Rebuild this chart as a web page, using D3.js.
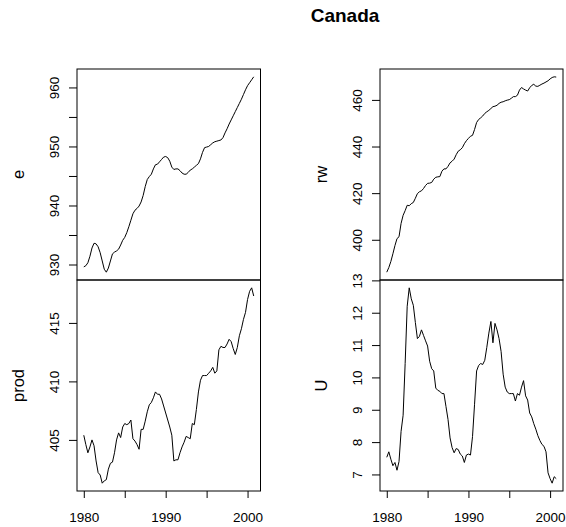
<!DOCTYPE html>
<html>
<head>
<meta charset="utf-8">
<script src="https://cdn.jsdelivr.net/npm/d3@7"></script>
<style>
  body { margin: 0; background: #fff; }
  text { font-family: "Liberation Sans", Arial, sans-serif; fill: #000; }
</style>
</head>
<body>
<svg width="566" height="527"></svg>
<script>
// quarterly series, 1980 Q1 .. 2000 Q4
const startYear = 1980;
const frequency = 4;

const e = [
  929.6, 929.8, 930.3, 931.4, 932.8, 933.6, 933.5, 933.0, 932.0, 930.6,
  929.2, 928.7, 929.4, 930.6, 931.8, 932.1, 932.3, 932.6, 933.3, 934.1,
  934.6, 935.4, 936.4, 937.5, 938.6, 939.2, 939.5, 939.9, 940.6, 941.7,
  943.2, 944.4, 944.9, 945.3, 946.2, 946.9, 947.0, 947.4, 947.8, 948.2,
  948.3, 948.1, 947.5, 946.5, 946.1, 946.2, 946.2, 945.9, 945.5, 945.3,
  945.3, 945.6, 946.0, 946.2, 946.5, 946.8, 947.1, 947.9, 949.0, 949.8,
  949.9, 950.0, 950.3, 950.6, 950.8, 950.9, 951.0, 951.1, 951.5, 952.3,
  953.0, 953.8, 954.5, 955.2, 955.9, 956.6, 957.3, 958.0, 958.8, 959.6,
  960.3, 960.8, 961.3, 961.8
];

const prod = [
  405.4, 404.6, 403.9, 404.4, 405.0, 404.5, 403.2, 402.2, 402.0, 401.3,
  401.5, 401.6, 402.5, 403.0, 403.1, 403.9, 405.0, 405.6, 405.2, 406.1,
  406.4, 406.3, 406.4, 406.7, 405.1, 404.9, 404.6, 404.2, 405.9, 405.9,
  406.6, 407.4, 408.0, 408.2, 408.6, 409.1, 408.9, 408.9, 408.5, 407.9,
  407.3, 406.7, 406.1, 405.4, 403.2, 403.3, 403.3, 403.9, 404.4, 404.8,
  405.3, 405.2, 405.1, 406.4, 406.3, 407.6, 409.1, 410.1, 410.5, 410.5,
  410.5, 410.7, 410.9, 411.2, 410.7, 410.9, 412.7, 413.0, 412.9, 412.9,
  413.2, 413.6, 413.4, 412.8, 412.3, 412.9, 413.9, 414.5, 415.3, 415.9,
  417.0, 417.7, 418.0, 417.3
];

const rw = [
  386.1, 388.1, 390.7, 394.0, 397.5, 400.5, 401.3, 407.0, 410.5, 412.5,
  414.8, 414.6, 415.5, 416.0, 417.8, 419.8, 420.6, 421.0, 422.0, 423.3,
  424.2, 424.3, 424.6, 426.0, 426.8, 427.0, 427.1, 429.4, 430.4, 430.4,
  431.5, 433.0, 433.7, 434.6, 436.5, 438.0, 438.6, 439.5, 441.2, 442.5,
  443.5, 444.4, 444.8, 447.3, 450.3, 451.6, 452.3, 453.1, 454.2, 454.9,
  455.5, 456.3, 457.1, 457.3, 457.7, 458.5, 459.0, 459.2, 459.6, 459.9,
  460.1, 460.7, 461.4, 461.4, 462.0, 464.2, 465.3, 464.7, 464.2, 463.8,
  465.2, 466.2, 466.7, 465.9, 465.8, 466.3, 466.8, 467.2, 467.7, 468.2,
  469.0, 469.6, 469.9, 469.8
];

const U = [
  7.53, 7.70, 7.47, 7.27, 7.37, 7.13, 7.40, 8.33, 8.83, 10.43,
  12.20, 12.77, 12.43, 12.23, 11.70, 11.20, 11.27, 11.47, 11.30, 11.13,
  10.97, 10.50, 10.27, 10.20, 9.67, 9.60, 9.57, 9.50, 9.50, 9.10,
  8.70, 8.13, 7.83, 7.67, 7.80, 7.77, 7.63, 7.57, 7.37, 7.60,
  7.63, 7.60, 8.17, 9.17, 10.20, 10.37, 10.43, 10.40, 10.53, 10.93,
  11.37, 11.73, 11.07, 11.67, 11.47, 11.20, 10.80, 10.10, 9.70, 9.55,
  9.50, 9.50, 9.50, 9.27, 9.50, 9.45, 9.70, 9.90, 9.43, 9.30,
  8.90, 8.78, 8.57, 8.40, 8.20, 8.05, 7.93, 7.87, 7.70, 7.05,
  6.87, 6.73, 6.93, 6.87
];

// axis ticks and the labels that R keeps
const yearTicks = [1980, 1985, 1990, 1995, 2000];
const yearLabels = [1980, 1990, 2000];
const eTicks = [930, 935, 940, 945, 950, 955, 960];
const eLabels = [930, 940, 950, 960];
const prodTicks = [405, 410, 415];
const rwTicks = [400, 420, 440, 460];
const UTicks = [7, 8, 9, 10, 11, 12, 13];

const svg = d3.select('svg');

const cols = [[77, 260.5], [380, 563]];
const rows = [[69, 280], [280, 491]];

const panels = [
  { name: 'e', values: e, ticks: eTicks, labels: eLabels, col: 0, row: 0 },
  { name: 'prod', values: prod, ticks: prodTicks, labels: prodTicks, col: 0, row: 1 },
  { name: 'rw', values: rw, ticks: rwTicks, labels: rwTicks, col: 1, row: 0 },
  { name: 'U', values: U, ticks: UTicks, labels: UTicks, col: 1, row: 1 }
];

// R style 4% padding of the data range
const pad = ([a, b]) => [a - (b - a) * 0.04, b + (b - a) * 0.04];

panels.forEach(p => {
  const [x0, x1] = cols[p.col];
  const [y0, y1] = rows[p.row];
  const data = p.values.map((v, i) => ({ t: startYear + i / frequency, v }));

  const x = d3.scaleLinear().domain(pad(d3.extent(data, d => d.t))).range([x0, x1]);
  const y = d3.scaleLinear().domain(pad(d3.extent(data, d => d.v))).range([y1, y0]);

  const g = svg.append('g');

  g.append('path')
    .datum(data)
    .attr('fill', 'none')
    .attr('stroke', '#000')
    .attr('stroke-width', 1)
    .attr('d', d3.line().x(d => x(d.t)).y(d => y(d.v)));

  g.append('rect')
    .attr('x', x0).attr('y', y0)
    .attr('width', x1 - x0).attr('height', y1 - y0)
    .attr('fill', 'none')
    .attr('stroke', '#000')
    .attr('stroke-width', 1);

  // y axis, labels turned like R's las = 0
  const yAxis = g.append('g')
    .attr('transform', `translate(${x0},0)`)
    .call(d3.axisLeft(y).tickValues(p.ticks).tickSize(8)
      .tickFormat(d => p.labels.includes(d) ? d : ''));
  yAxis.select('.domain').remove();
  yAxis.selectAll('line').attr('stroke', '#000');
  yAxis.selectAll('text')
    .attr('x', 0).attr('y', -18).attr('dy', 0)
    .attr('transform', 'rotate(-90)')
    .attr('text-anchor', 'middle')
    .style('font-size', '13.5px');

  g.append('text')
    .attr('transform', `translate(${x0 - 53},${(y0 + y1) / 2}) rotate(-90)`)
    .attr('text-anchor', 'middle')
    .style('font-size', '16.5px')
    .text(p.name);

  if (p.row === 1) {
    const xAxis = g.append('g')
      .attr('transform', `translate(0,${y1})`)
      .call(d3.axisBottom(x).tickValues(yearTicks).tickSize(7)
        .tickFormat(d => yearLabels.includes(d) ? d : ''));
    xAxis.select('.domain').remove();
    xAxis.selectAll('line').attr('stroke', '#000');
    xAxis.selectAll('text')
      .attr('y', 31).attr('dy', 0)
      .style('font-size', '13.5px');
  }
});

svg.append('text')
  .attr('x', 345)
  .attr('y', 22)
  .attr('text-anchor', 'middle')
  .style('font-size', '19px')
  .style('font-weight', 'bold')
  .text('Canada');
</script>
</body>
</html>
